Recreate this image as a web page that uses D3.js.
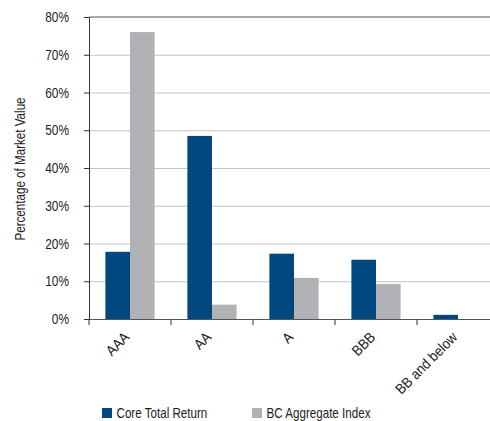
<!DOCTYPE html>
<html>
<head>
<meta charset="utf-8">
<script src="https://cdn.jsdelivr.net/npm/d3@7"></script>
<style>
  body { margin: 0; background: #fff; }
  svg { display: block; font-family: "Liberation Sans", Arial, sans-serif; }
</style>
</head>
<body>
<div id="chart"></div>
<script>
const categories = ['AAA', 'AA', 'A', 'BBB', 'BB and below'];
const seriesNames = ['Core Total Return', 'BC Aggregate Index'];
const coreTotalReturn = [17.8, 48.5, 17.3, 15.7, 1.1];
const bcAggregate = [76.0, 3.8, 10.9, 9.3, 0];
const yTicks = [0, 10, 20, 30, 40, 50, 60, 70, 80];
const colors = ['#00467f', '#b1b2b6'];

const W = 490, H = 421;
const margin = { top: 17, right: -9, bottom: 102, left: 89 };
const width = W - margin.left - margin.right;
const height = H - margin.top - margin.bottom;

// no condensed face installed, so squeeze the text horizontally
const SQ = 0.85;

const svg = d3.select('#chart').append('svg')
  .attr('width', W).attr('height', H);
const g = svg.append('g')
  .attr('transform', `translate(${margin.left},${margin.top})`);

const x = d3.scaleBand().domain(categories).range([0, width]);
const xInner = d3.scaleBand().domain(seriesNames)
  .range([x.bandwidth() * 0.2, x.bandwidth() * 0.8]);
const y = d3.scaleLinear().domain([0, 80]).range([height, 0]);

// gridlines
g.append('g')
  .call(d3.axisLeft(y).tickValues(yTicks.slice(1, -1)).tickSize(-width).tickFormat(''))
  .call(s => s.select('.domain').remove())
  .call(s => s.selectAll('.tick line').attr('stroke', '#c4c4c4').attr('stroke-width', 1));

// top line
g.append('line')
  .attr('x1', 0).attr('x2', width)
  .attr('y1', y(80)).attr('y2', y(80))
  .attr('stroke', '#555').attr('stroke-width', 1.2);

// bars
const rows = categories.map((c, i) => ({ cat: c, vals: [coreTotalReturn[i], bcAggregate[i]] }));
g.selectAll('.grp').data(rows).enter().append('g')
  .attr('transform', d => `translate(${x(d.cat)},0)`)
  .selectAll('rect')
  .data(d => d.vals.map((v, j) => ({ v, s: seriesNames[j], j })))
  .enter().append('rect')
  .attr('x', d => xInner(d.s))
  .attr('width', xInner.bandwidth())
  .attr('y', d => y(d.v))
  .attr('height', d => y(0) - y(d.v))
  .attr('fill', d => colors[d.j]);

// y axis
const yAxis = g.append('g')
  .call(d3.axisLeft(y).tickValues(yTicks).tickSize(5).tickFormat(''))
  .call(s => s.select('.domain').attr('stroke', '#333'))
  .call(s => s.selectAll('.tick line').attr('stroke', '#333'));
yAxis.selectAll('.ylbl').data(yTicks).enter().append('text')
  .attr('transform', d => `translate(-20,${y(d)}) scale(${SQ},1)`)
  .attr('text-anchor', 'end')
  .attr('dy', '0.36em')
  .attr('font-size', 14)
  .attr('fill', '#222')
  .text(d => d + '%');

// x axis
const xAxis = g.append('g')
  .attr('transform', `translate(0,${height})`)
  .call(d3.axisBottom(x).tickSize(0).tickFormat(''))
  .call(s => s.select('.domain').attr('stroke', '#555'));
xAxis.selectAll('.sep').data(categories).enter().append('line')
  .attr('x1', d => x(d)).attr('x2', d => x(d))
  .attr('y1', 0).attr('y2', 6)
  .attr('stroke', '#333');

xAxis.selectAll('.lbl').data(categories).enter().append('text')
  .attr('transform', d => `translate(${x(d) + x.bandwidth() / 2 - 7},${12}) rotate(-45) scale(0.9,1)`)
  .attr('text-anchor', 'end')
  .attr('dy', '0.7em')
  .attr('font-size', 14.5)
  .attr('fill', '#222')
  .text(d => d);

// y label
svg.append('text')
  .attr('transform', `translate(25,${margin.top + height / 2 + 1}) rotate(-90) scale(0.83,1)`)
  .attr('text-anchor', 'middle')
  .attr('font-size', 14)
  .attr('fill', '#222')
  .text('Percentage of Market Value');

// legend
const legendX = [102, 252];
const legend = svg.selectAll('.leg').data(seriesNames).enter().append('g')
  .attr('transform', (d, i) => `translate(${legendX[i]},408)`);
legend.append('rect').attr('width', 10).attr('height', 10).attr('fill', (d, i) => colors[i]);
legend.append('text')
  .attr('transform', 'translate(14.5,10) scale(0.83,1)')
  .attr('font-size', 14).attr('fill', '#222').text(d => d);
</script>
</body>
</html>
